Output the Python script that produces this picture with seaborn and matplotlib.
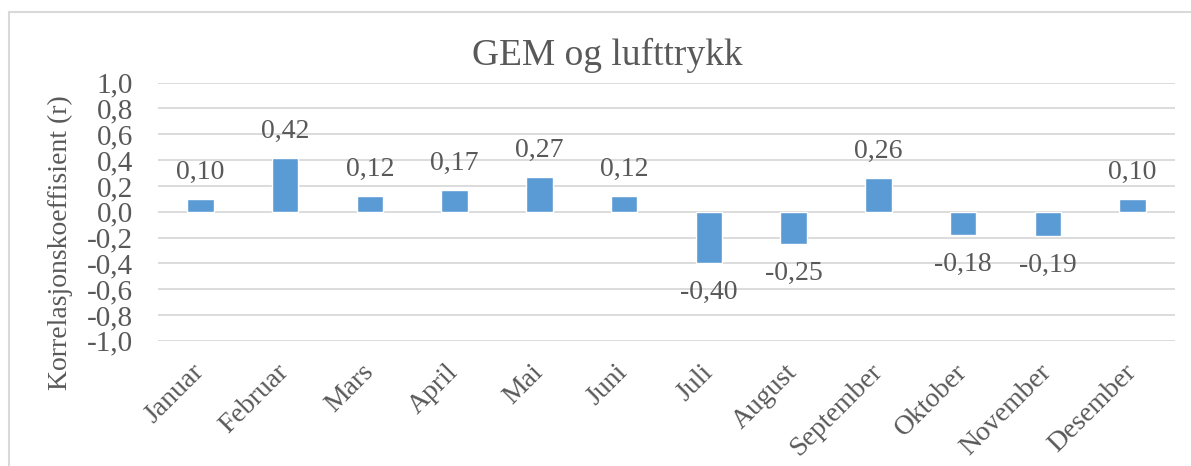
import numpy as np
import pandas as pd
import matplotlib
matplotlib.use("Agg")
import matplotlib.pyplot as plt
from matplotlib.patches import Rectangle
import seaborn as sns

months = ["Januar", "Februar", "Mars", "April", "Mai", "Juni",
          "Juli", "August", "September", "Oktober", "November", "Desember"]
corr_r = [0.10, 0.42, 0.12, 0.17, 0.27, 0.12, -0.40, -0.25, 0.26, -0.18, -0.19, 0.10]
y_ticks = [-1.0, -0.8, -0.6, -0.4, -0.2, 0.0, 0.2, 0.4, 0.6, 0.8, 1.0]

BAR_BLUE = "#5B9BD5"
TEXT_GREY = "#595959"
GRID_GREY = "#D9D9D9"

sns.set_theme(style="white")
plt.rcParams["font.family"] = ["Liberation Serif", "DejaVu Serif"]

df = pd.DataFrame({"month": months, "r": corr_r})

W, H = 1191, 466
fig = plt.figure(figsize=(W / 100, H / 100), dpi=100)
ax = fig.add_axes([158 / W, 1 - 340.7 / H, (1175 - 158) / W, (340.7 - 82.7) / H])

sns.barplot(data=df, x="month", y="r", color=BAR_BLUE, saturation=1,
            width=0.315, ax=ax)

ax.set_ylim(-1.0, 1.0)
ax.set_xlim(-0.5, len(months) - 0.5)
ax.set_yticks(y_ticks)
ax.set_yticklabels([f"{v:.1f}".replace(".", ",") for v in y_ticks],
                   fontsize=21, color=TEXT_GREY)
ax.yaxis.grid(True, color=GRID_GREY, linewidth=1.3)
ax.set_axisbelow(True)
for s in ax.spines.values():
    s.set_visible(False)
ax.tick_params(axis="y", length=0, pad=18)
ax.tick_params(axis="x", length=0, pad=20)
ax.set_xticks(range(len(months)))
ax.set_xticklabels(months, rotation=45, ha="right", va="center",
                   rotation_mode="anchor", fontsize=20, color=TEXT_GREY)
ax.set_xlabel("")
ax.set_ylabel("")

# data labels
for i, v in enumerate(corr_r):
    lab = f"{v:.2f}".replace(".", ",")
    if v >= 0:
        ax.annotate(lab, (i, v), xytext=(0, 10), textcoords="offset points",
                    ha="center", va="bottom", fontsize=20, color=TEXT_GREY)
    else:
        ax.annotate(lab, (i, v), xytext=(0, -12), textcoords="offset points",
                    ha="center", va="top", fontsize=20, color=TEXT_GREY)

fig.text(607 / W, 1 - 55 / H, "GEM og lufttrykk", ha="center",
         va="center", fontsize=27, color=TEXT_GREY)
fig.text(60 / W, 1 - 243 / H, "Korrelasjonskoeffisient (r)", rotation=90,
         ha="center", va="center", fontsize=20, color=TEXT_GREY)

# chart border (Excel chart area), running off the bottom/right edges
fig.patches.append(Rectangle((8.5 / W, -0.1), 1.2, 1.1 - 12.5 / H,
                             transform=fig.transFigure, fill=False,
                             edgecolor=GRID_GREY, linewidth=1.5))

fig.savefig("out.png", dpi=100)
